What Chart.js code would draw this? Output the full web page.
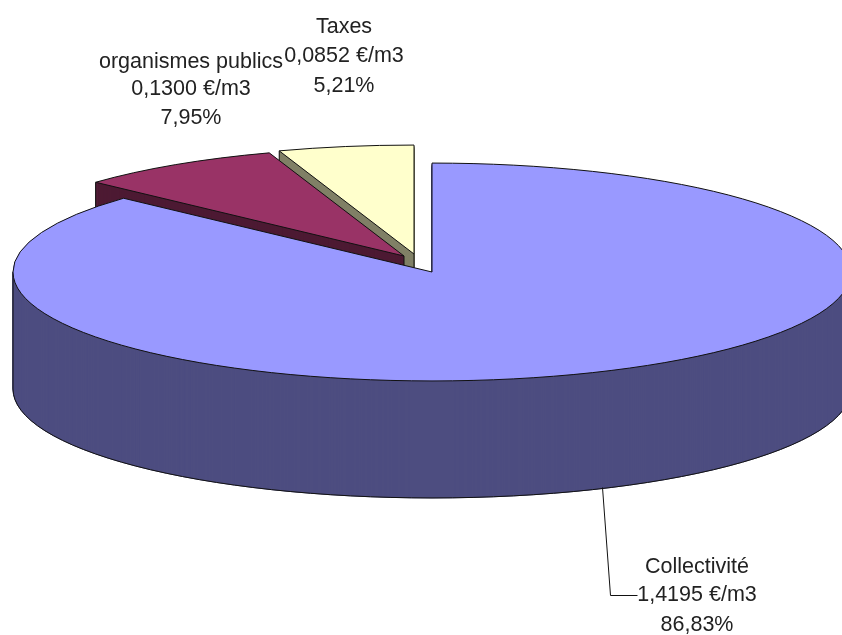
<!DOCTYPE html>
<html>
<head>
<meta charset="utf-8">
<title>Prix de l'eau</title>
<script src="https://cdn.jsdelivr.net/npm/chart.js@4"></script>
<style>
  html, body { margin: 0; padding: 0; background: #fff; }
  canvas { display: block; }
</style>
</head>
<body>
<canvas id="pie3d" width="842" height="635"></canvas>
<script>
// Chart data
const categories = ["Collectivité", "organismes publics", "Taxes"]
const priceValues = [1.4195, 0.13, 0.0852]
const priceLabels = ["1,4195 €/m3", "0,1300 €/m3", "0,0852 €/m3"]
const percentLabels = ["86,83%", "7,95%", "5,21%"]

// Slice colours: top face and side face
const topColors = ["#9999ff", "#993366", "#ffffcc"]
const sideColors = ["#4d4d80", "#4d1a33", "#808066"]

// Look of the fake 3D
const SQUASH = 0.26
const DEPTH = 117
const RADIUS = 419
const sliceShift = [[0, 0], [-28, -16], [-18, -18]]

// Label blocks (centre x, y of each line)
const labelBoxes = [
  { x: 697, y: [567, 595, 625] },
  { x: 191, y: [62, 89, 118] },
  { x: 344, y: [27, 56, 86] },
]
const leaderLine = [[602, 487], [610, 595], [637, 595]]

function squashed(ctx, arc, shift, dy) {
  ctx.translate(arc.x + shift[0], arc.y + shift[1] + dy)
  ctx.scale(1, SQUASH)
  ctx.translate(-arc.x, -arc.y)
}

function sectorPath(ctx, arc) {
  ctx.beginPath()
  ctx.moveTo(arc.x, arc.y)
  ctx.arc(arc.x, arc.y, arc.outerRadius, arc.startAngle, arc.endAngle)
  ctx.closePath()
}

function drawSlice(ctx, arc, i) {
  const shift = sliceShift[i]
  const baseX = arc.x + shift[0]
  const baseY = arc.y + shift[1]
  const r = arc.outerRadius

  // side: the same sector stacked downwards
  ctx.fillStyle = sideColors[i]
  ctx.strokeStyle = sideColors[i]
  ctx.lineWidth = 1
  for (let d = DEPTH; d > 0; d--) {
    ctx.save()
    squashed(ctx, arc, shift, d)
    sectorPath(ctx, arc)
    ctx.restore()
    ctx.fill()
    ctx.stroke()
  }

  // side outline: front part of the bottom rim and the vertical edges
  ctx.strokeStyle = "#111"
  const rimFrom = Math.max(arc.startAngle, 0)
  const rimTo = Math.min(arc.endAngle, Math.PI)
  if (rimTo > rimFrom) {
    ctx.save()
    squashed(ctx, arc, shift, DEPTH)
    ctx.beginPath()
    ctx.arc(arc.x, arc.y, r, rimFrom, rimTo)
    ctx.restore()
    ctx.stroke()
  }

  const edges = []
  if (i > 0) {
    // left end of the small slices (their start angle) and their tip
    edges.push([Math.cos(arc.startAngle) * r, Math.sin(arc.startAngle) * r * SQUASH])
    edges.push([0, 0])
  }
  if (arc.startAngle < Math.PI && arc.endAngle > Math.PI) edges.push([-r, 0])
  ctx.beginPath()
  edges.forEach(([ex, ey]) => {
    ctx.moveTo(baseX + ex, baseY + ey)
    ctx.lineTo(baseX + ex, baseY + ey + DEPTH)
  })
  ctx.stroke()

  // top face, drawn by the arc element itself
  ctx.save()
  squashed(ctx, arc, shift, 0)
  arc.draw(ctx)
  sectorPath(ctx, arc)
  ctx.restore()
  ctx.strokeStyle = "#111"
  ctx.lineWidth = 1
  ctx.stroke()
}

const pie3dPlugin = {
  id: "pie3d",
  beforeDatasetDraw(chart, args) {
    const ctx = chart.ctx
    const arcs = args.meta.data
    // back slices first, the big one goes on top of them
    for (let i = arcs.length - 1; i >= 0; i--) drawSlice(ctx, arcs[i], i)
    return false
  },
  afterDraw(chart) {
    const ctx = chart.ctx
    ctx.save()
    ctx.strokeStyle = "#111"
    ctx.lineWidth = 1
    ctx.beginPath()
    leaderLine.forEach(([x, y], i) => (i ? ctx.lineTo(x + 0.5, y + 0.5) : ctx.moveTo(x + 0.5, y + 0.5)))
    ctx.stroke()

    ctx.fillStyle = "#222"
    ctx.font = '21.5px "Liberation Sans", Arial, sans-serif'
    ctx.textAlign = "center"
    ctx.textBaseline = "middle"
    categories.forEach((name, i) => {
      const box = labelBoxes[i]
      ctx.fillText(name, box.x, box.y[0])
      ctx.fillText(priceLabels[i], box.x, box.y[1])
      ctx.fillText(percentLabels[i], box.x, box.y[2])
    })
    ctx.restore()
  },
}

new Chart(document.getElementById("pie3d"), {
  type: "pie",
  data: {
    labels: categories,
    datasets: [{
      data: priceValues,
      backgroundColor: topColors,
      borderWidth: 0,
    }],
  },
  options: {
    responsive: false,
    animation: false,
    events: [],
    radius: RADIUS,
    layout: { padding: { left: 22, right: 0, top: 0, bottom: 91 } },
    plugins: { legend: { display: false }, tooltip: { enabled: false } },
  },
  plugins: [pie3dPlugin],
})
</script>
</body>
</html>
